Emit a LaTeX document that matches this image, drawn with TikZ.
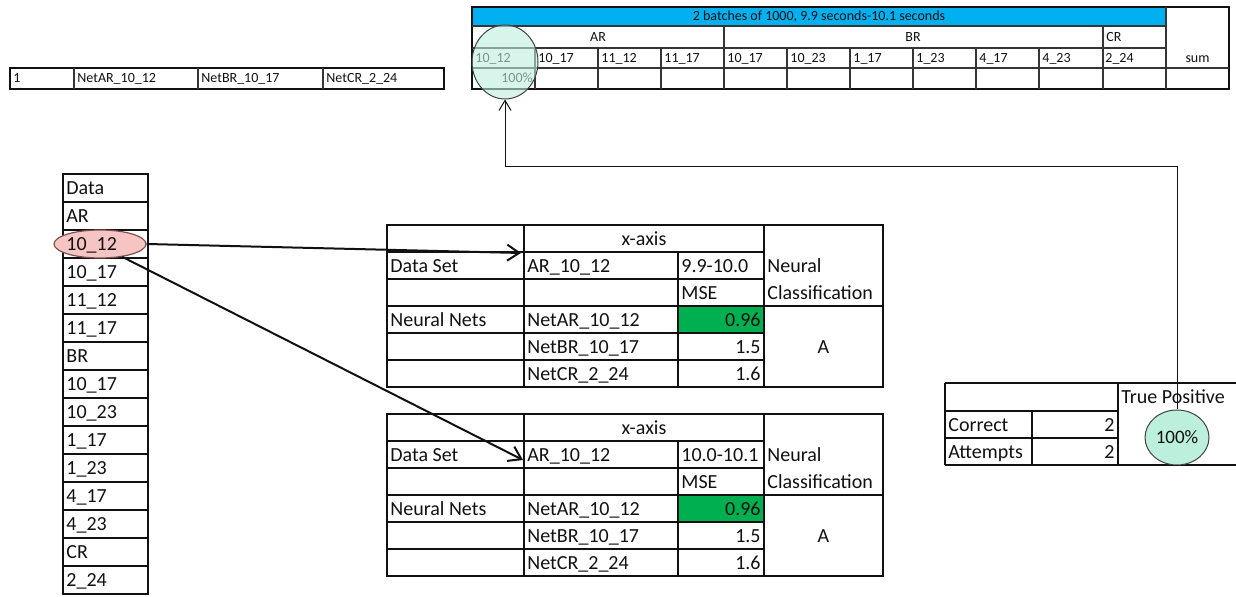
\documentclass[tikz,border=0pt]{standalone}
\usepackage{fontspec}
\setmainfont{Carlito}
\usetikzlibrary{arrows.meta,shapes.geometric}
\definecolor{xlblue}{HTML}{00B0F0}
\definecolor{xlgreen}{HTML}{00B050}
\definecolor{tealfill}{HTML}{BDEFDD}
\definecolor{pinkfill}{HTML}{F6C4C2}
\definecolor{pinkline}{HTML}{7A5050}
\definecolor{ink}{HTML}{111111}
\begin{document}
\begin{tikzpicture}[x=0.5pt,y=-0.5pt,
  grid/.style={draw=ink,line width=0.8pt},
  fine/.style={draw=ink!85,line width=0.55pt},
  frame/.style={draw=ink,line width=0.9pt},
  txt/.style={inner sep=0pt,anchor=base west,text=ink,font=\fontsize{10}{12}\selectfont},
  txtr/.style={txt,anchor=base east},
  txtc/.style={txt,anchor=base},
  sml/.style={inner sep=0pt,anchor=base west,text=ink,font=\fontsize{7}{8.4}\selectfont},
  smlr/.style={sml,anchor=base east},
  smlc/.style={sml,anchor=base},
  tealell/.style={ellipse,draw=ink!80,line width=0.5pt,fill=tealfill,inner sep=0pt},
  pinkell/.style={ellipse,draw=pinkline,line width=0.6pt,fill=pinkfill,inner sep=0pt},
  bigarrow/.style={draw=ink,line width=1pt,-{Straight Barb[length=6pt,width=8pt]}},
  conn/.style={draw=ink,line width=0.5pt,-{Straight Barb[length=5pt,width=6pt]}}
]
\useasboundingbox (0,0) rectangle (1236,597);

% ---------- top-left row ----------
\draw[frame] (10,68) rectangle (444,89);
\foreach \xx in {74,198,323} \draw[fine] (\xx,68) -- (\xx,89);
\node[sml] (r1) at (13,83) {1};
\node[sml] (r2) at (77,83) {NetAR\_10\_12};
\node[sml] (r3) at (201,83) {NetBR\_10\_17};
\node[sml] (r4) at (326,83) {NetCR\_2\_24};

% ---------- top-right table ----------
\fill[xlblue] (472,7) rectangle (1166,26);
\draw[frame] (472,7) rectangle (1229,89);
\draw[fine] (472,26) -- (1166,26);
\draw[fine] (472,48) -- (1166,48);
\draw[fine] (472,68) -- (1229,68);
\draw[fine] (1166,7) -- (1166,89);
\draw[fine] (724,26) -- (724,89);
\draw[fine] (1103,26) -- (1103,89);
\foreach \xx in {535,598,661,787,850,913,976,1039} \draw[fine] (\xx,48) -- (\xx,89);
\node[smlc] (banner) at (819,21) {2 batches of 1000, 9.9 seconds-10.1 seconds};
\node[smlc] (gAR) at (598,41.5) {AR};
\node[smlc] (gBR) at (913,41.5) {BR};
\node[sml] (gCR) at (1106,41.5) {CR};
\node[smlc] (hsum) at (1197.5,62.5) {sum};
\foreach \lab [count=\k from 0] in {10\_12,10\_17,11\_12,11\_17,10\_17,10\_23,1\_17,1\_23,4\_17,4\_23,2\_24}
  \node[sml] (h\k) at (475+63*\k,62.5) {\lab};
\node[smlr] (pct) at (533,83) {100\%};
\node[tealell,fill opacity=0.6,minimum width=33pt,minimum height=37pt] (topell) at (505,62) {};

% ---------- left column ----------
\draw[grid] (63,174) rectangle (148,594);
\foreach \k in {1,...,14} \draw[grid] (63,174+28*\k) -- (148,174+28*\k);
\node[pinkell,minimum width=46pt,minimum height=14pt] (sel) at (100,244) {};
\foreach \lab [count=\k from 0] in {Data,AR,10\_12,10\_17,11\_12,11\_17,BR,10\_17,10\_23,1\_17,1\_23,4\_17,4\_23,CR,2\_24}
  \node[txt] (L\k) at (66,174+28*\k+21) {\lab};

% ---------- middle tables ----------
\foreach \i/\T/\rng in {1/225/9.9-10.0, 2/414/10.0-10.1} {
  \fill[xlgreen] (678,\T+81) rectangle (764,\T+108);
  \draw[grid] (387,\T) rectangle (883,\T+162);
  \draw[grid] (524,\T) -- (524,\T+162);
  \draw[grid] (678,\T+27) -- (678,\T+162);
  \draw[grid] (764,\T) -- (764,\T+162);
  \draw[grid] (387,\T+27) -- (764,\T+27);
  \draw[grid] (387,\T+54) -- (764,\T+54);
  \draw[grid] (387,\T+81) -- (883,\T+81);
  \draw[grid] (387,\T+108) -- (764,\T+108);
  \draw[grid] (387,\T+135) -- (764,\T+135);
  \node[txtc] (xa\i) at (644,\T+20.5) {x-axis};
  \node[txt] (ds\i) at (390,\T+47.5) {Data Set};
  \node[txt] (ar\i) at (527,\T+47.5) {AR\_10\_12};
  \node[txt] (rg\i) at (681,\T+47.5) {\rng};
  \node[txt] (nu\i) at (767,\T+47.5) {Neural};
  \node[txt] (ms\i) at (681,\T+74.5) {MSE};
  \node[txt] (cl\i) at (767,\T+74.5) {Classification};
  \node[txt] (nn\i) at (390,\T+101.5) {Neural Nets};
  \node[txt] (na\i) at (527,\T+101.5) {NetAR\_10\_12};
  \node[txtr] (va\i) at (761,\T+101.5) {0.96};
  \node[txt] (nb\i) at (527,\T+128.5) {NetBR\_10\_17};
  \node[txtr] (vb\i) at (761,\T+128.5) {1.5};
  \node[txt] (nc\i) at (527,\T+155.5) {NetCR\_2\_24};
  \node[txtr] (vc\i) at (761,\T+155.5) {1.6};
  \node[txtc] (cls\i) at (823.5,\T+128.5) {A};
}

% ---------- bottom-right table ----------
\draw[grid] (945,383) -- (1236,383);
\draw[grid] (945,465) -- (1236,465);
\draw[grid] (945,411) -- (1118,411);
\draw[grid] (945,438) -- (1118,438);
\draw[grid] (945,383) -- (945,465);
\draw[grid] (1032,411) -- (1032,465);
\draw[grid] (1118,383) -- (1118,465);
\node[txt] (tp) at (1121,404) {True Positive};
\node[txt] (cor) at (948,431.5) {Correct};
\node[txtr] (corv) at (1115,431.5) {2};
\node[txt] (att) at (948,458.5) {Attempts};
\node[txtr] (attv) at (1115,458.5) {2};
\node[tealell,minimum width=32pt,minimum height=27.5pt,font=\fontsize{9.5}{11}\selectfont,text=ink] (tpell) at (1177,437.5) {100\%};

% ---------- connectors ----------
\coordinate (tgt1) at (521,253);
\coordinate (tgt2) at (523,460);
\coordinate (bend) at (1177,167);
\draw[bigarrow] (sel.east) -- (tgt1);
\draw[bigarrow] (sel.-30) -- (tgt2);
\draw[conn] (tpell.north) -- (bend) -| (topell.south);
\end{tikzpicture}
\end{document}
